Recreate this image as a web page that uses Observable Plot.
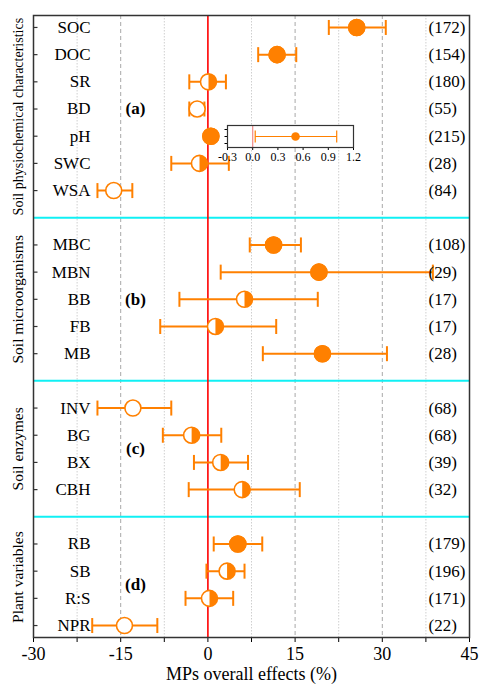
<!DOCTYPE html>
<html><head><meta charset="utf-8">
<script src="https://cdn.jsdelivr.net/npm/d3@7"></script>
<script src="https://cdn.jsdelivr.net/npm/@observablehq/plot@0.6"></script>
<style>
html,body{margin:0;padding:0;background:#fff;}
#wrap{position:relative;width:479px;height:687px;}
#wrap svg{position:absolute;}
#wrap svg, #wrap svg text{font-family:"Liberation Serif","Times New Roman","DejaVu Serif","Noto Serif",serif !important;}
</style></head><body><div id="wrap"></div>
<script>
// ---- data ----
const groupNames = ["Soil physiochemical characteristics", "Soil microorganisms", "Soil enzymes", "Plant variables"];
const panelLabels = ["(a)", "(b)", "(c)", "(d)"];
const variables = ["SOC","DOC","SR","BD","pH","SWC","WSA","MBC","MBN","BB","FB","MB","INV","BG","BX","CBH","RB","SB","R:S","NPR"];
const groupOf =   [0,0,0,0,0,0,0, 1,1,1,1,1, 2,2,2,2, 3,3,3,3];
const effect = [25.6, 11.9, 0.1, -1.85, 0.51, -1.45, -16.2, 11.3, 19.1, 6.3, 1.3, 19.7, -12.9, -2.8, 2.2, 5.9, 5.15, 3.3, 0.27, -14.35];
const lower  = [20.8, 8.65, -3.2, -3.2, 0.03, -6.3, -19.0, 7.2, 2.2, -4.9, -8.2, 9.45, -19.0, -7.75, -2.4, -3.3, 1.0, -0.25, -3.85, -19.9];
const upper  = [30.6, 15.2, 3.1, -0.6, 1.0, 3.6, -13.0, 16.0, 38.7, 18.9, 11.75, 30.8, -6.3, 2.3, 6.9, 15.8, 9.35, 6.3, 4.35, -8.7];
const counts = [172, 154, 180, 55, 215, 28, 84, 108, 29, 17, 17, 28, 68, 68, 39, 32, 179, 196, 171, 22];
const significance = ["+","+","ns","-","+","ns","-","+","+","ns","ns","+","-","ns","ns","ns","+","ns","ns","-"];
const majorTicks = [-30, -15, 0, 15, 30, 45];
const minorTicks = [-22.5, -7.5, 7.5, 22.5, 37.5];
const dashedGrid = [-15, 15, 30];
const xTitle = "MPs overall effects (%)";
const insetTicks = [-0.3, 0, 0.3, 0.6, 0.9, 1.2];
const insetVariable = "pH";

// ---- derived table ----
const rows = [], gapSlots = [];
let slot = 0, prev = null;
variables.forEach((v, i) => {
  if (prev !== null && groupOf[i] !== prev) { gapSlots.push(slot); slot++; }
  rows.push({name: v, group: groupOf[i], slot, effect: effect[i], lower: lower[i], upper: upper[i], n: counts[i], sig: significance[i]});
  slot++; prev = groupOf[i];
});
const nSlots = slot;
const pad = 0.44;
const yDomain = [-pad, nSlots - 1 + pad];
const bounds = [yDomain[0], ...gapSlots, yDomain[1]];
const groupInfo = groupNames.map((g, k) => {
  const rs = rows.filter(r => r.group === k);
  return {name: g, panel: panelLabels[k], mid: d3.mean(rs, r => r.slot), region: (bounds[k] + bounds[k + 1]) / 2, size: k === 0 ? 14 : 15.5};
});

const FONT = "'Liberation Serif','Times New Roman','DejaVu Serif','Noto Serif',serif";
const ORANGE = "#ff8000";
const radius = s => Math.sqrt(s / Math.PI);
const halfRight = {draw(ctx, size) { const r = radius(size); ctx.moveTo(0, -r); ctx.arc(0, 0, r, -Math.PI / 2, Math.PI / 2); ctx.closePath(); }};
const vbar = {draw(ctx, size) { const r = radius(size); ctx.moveTo(0, -r); ctx.lineTo(0, r); }};
const hbarIn = {draw(ctx, size) { const r = radius(size); ctx.moveTo(0, 0); ctx.lineTo(r, 0); }};

const main = Plot.plot({
  width: 479, height: 687,
  marginTop: 15, marginRight: 10, marginBottom: 50, marginLeft: 33,
  style: {fontFamily: FONT, fontSize: "17px", background: "transparent", overflow: "visible", color: "#000"},
  x: {domain: [-30, 45], label: null},
  y: {domain: yDomain, reverse: true, axis: null},
  marks: [
    Plot.ruleX(minorTicks, {stroke: "#cfcfcf", strokeDasharray: "1.5,1.5", strokeWidth: 1}),
    Plot.ruleX(dashedGrid, {stroke: "#a8a8a8", strokeDasharray: "4,3", strokeWidth: 1}),
    Plot.ruleY(gapSlots, {stroke: "#10f0f4", strokeWidth: 2}),
    Plot.ruleX([0], {stroke: "#ff0000", strokeWidth: 1.6}),
    Plot.link(rows, {x1: "lower", x2: "upper", y1: "slot", y2: "slot", stroke: ORANGE, strokeWidth: 2}),
    Plot.dot(rows, {x: "lower", y: "slot", symbol: vbar, r: 7.5, stroke: ORANGE, strokeWidth: 2, fill: "none"}),
    Plot.dot(rows, {x: "upper", y: "slot", symbol: vbar, r: 7.5, stroke: ORANGE, strokeWidth: 2, fill: "none"}),
    Plot.dot(rows, {x: "effect", y: "slot", r: 8, fill: "white", stroke: ORANGE, strokeWidth: 1.6}),
    Plot.dot(rows.filter(r => r.sig === "+"), {x: "effect", y: "slot", r: 8, fill: ORANGE, stroke: ORANGE, strokeWidth: 1.6}),
    Plot.dot(rows.filter(r => r.sig === "ns"), {x: "effect", y: "slot", r: 8, symbol: halfRight, fill: ORANGE, stroke: "none"}),
    Plot.dot(rows, {y: "slot", frameAnchor: "left", symbol: hbarIn, r: 4, stroke: "#333", strokeWidth: 1.2, fill: "none"}),
    Plot.text(rows, {y: "slot", text: "name", frameAnchor: "left", dx: 57, textAnchor: "end", fontSize: 17, fontFamily: FONT}),
    Plot.text(rows, {y: "slot", text: d => `(${d.n})`, frameAnchor: "right", dx: -41, textAnchor: "start", fontSize: 17, fontFamily: FONT}),
    Plot.text(groupInfo, {y: "mid", text: "panel", frameAnchor: "left", dx: 102, textAnchor: "middle", fontWeight: "bold", fontSize: 17, fontFamily: FONT}),
    Plot.text(groupInfo, {y: "region", text: "name", frameAnchor: "left", dx: -15, textAnchor: "middle", rotate: -90, fontSize: d => d.size, fontFamily: FONT}),
    Plot.axisX({ticks: majorTicks, tickSize: 5, tickPadding: 5, fontSize: 18, fontFamily: FONT, tickFormat: d => String(d), label: null}),
    Plot.axisX({ticks: minorTicks, tickSize: 5, tickFormat: () => "", label: null}),
    Plot.text([xTitle], {text: d => d, frameAnchor: "bottom", dy: 42, fontSize: 18, fontFamily: FONT}),
    Plot.frame({stroke: "#333", strokeWidth: 1.5})
  ]
});

const pH = rows.find(r => r.name === insetVariable);
const insetY = ["top", insetVariable, "bottom"];
const inset = Plot.plot({
  width: 162, height: 50,
  marginLeft: 20, marginRight: 16, marginTop: 10, marginBottom: 18,
  style: {fontFamily: FONT, fontSize: "12px", background: "transparent", overflow: "visible", color: "#000"},
  x: {domain: [insetTicks[0], insetTicks[insetTicks.length - 1]], label: null},
  y: {type: "point", domain: insetY, padding: 0.5, label: null},
  marks: [
    Plot.frame({fill: "white"}),
    Plot.ruleX([0], {stroke: "#f08a8a", strokeWidth: 1.2}),
    Plot.link([pH], {x1: "lower", x2: "upper", y1: "name", y2: "name", stroke: ORANGE, strokeWidth: 1.2}),
    Plot.dot([pH], {x: "lower", y: "name", symbol: vbar, r: 6, stroke: ORANGE, strokeWidth: 1.2, fill: "none"}),
    Plot.dot([pH], {x: "upper", y: "name", symbol: vbar, r: 6, stroke: ORANGE, strokeWidth: 1.2, fill: "none"}),
    Plot.dot([pH], {x: "effect", y: "name", r: 4.3, fill: ORANGE}),
    Plot.axisY({tickSize: 2.5, tickFormat: () => "", label: null}),
    Plot.axisX({ticks: insetTicks, tickSize: 3, tickPadding: 1.5, tickFormat: d => d.toFixed(1), label: null, fontSize: 12, fontFamily: FONT}),
    Plot.frame({stroke: "#333", strokeWidth: 1.2})
  ]
});

const wrap = document.getElementById("wrap");
main.style.left = "0px"; main.style.top = "0px";
inset.style.left = "207px"; inset.style.top = "115px";
wrap.appendChild(main);
wrap.appendChild(inset);
</script></body></html>
